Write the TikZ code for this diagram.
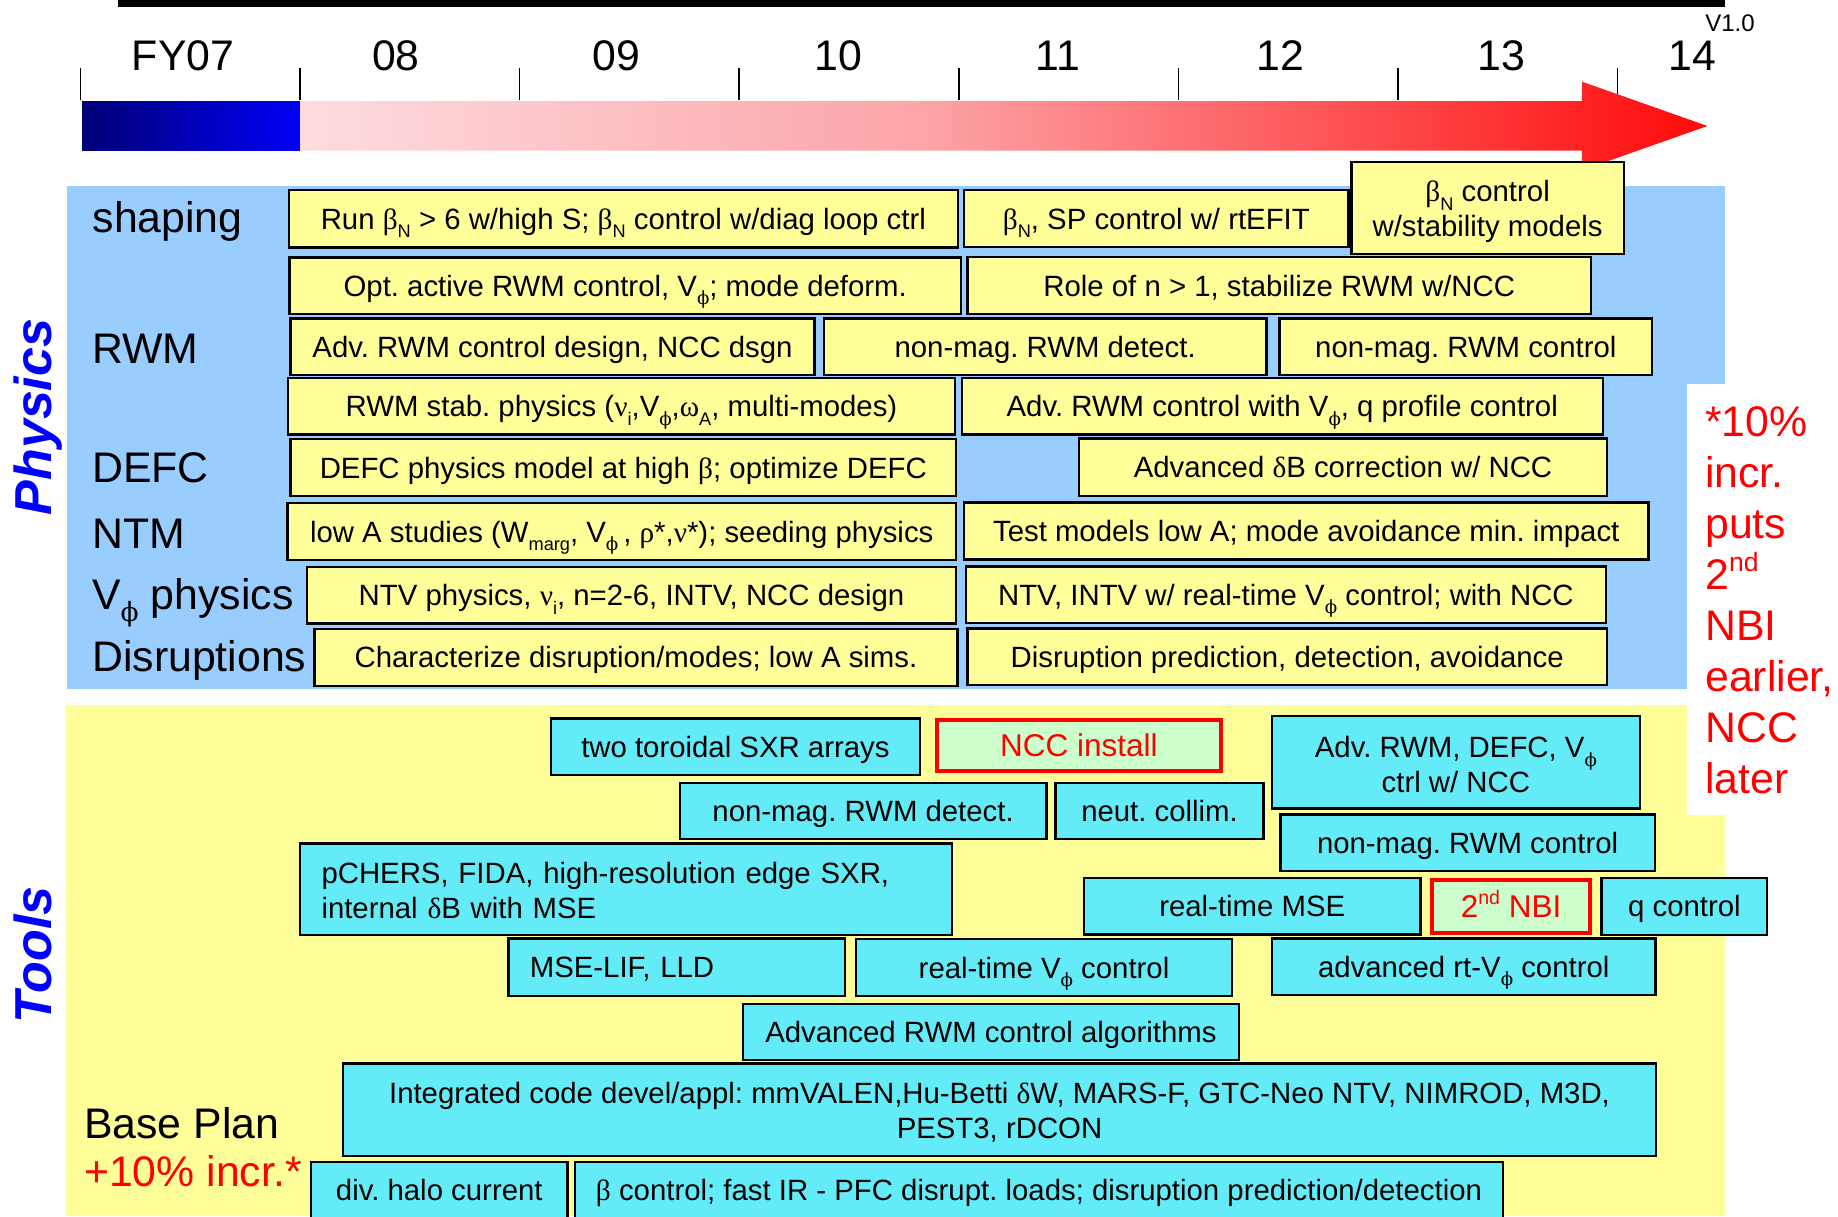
\documentclass[tikz,border=0pt]{standalone}
\usepackage{fontspec}
\setmainfont{Liberation Sans}
\newfontfamily\gkf{Liberation Serif}
\newfontfamily\phf{DejaVu Serif}
\newcommand\g[1]{{\gkf #1}}
\newcommand\fph{{\phf ϕ}}
\newcommand\lo[1]{\raisebox{-0.3em}{\scalebox{0.62}{#1}}}
\newcommand\hi[1]{\raisebox{0.42em}{\scalebox{0.62}{#1}}}
\newcommand\Vp{V\lo{\fph}}
\newcommand\fsb{\fontsize{29.35}{35}\selectfont}
\newcommand\fsr{\fontsize{31.5}{36}\selectfont}
\newcommand\fsl{\fontsize{42.8}{51}\selectfont}
\newcommand\st[1]{\rule{0pt}{#1pt}}
\definecolor{pyel}{RGB}{255,255,153}
\definecolor{pblue}{RGB}{153,204,255}
\definecolor{tcyan}{RGB}{99,236,247}
\definecolor{lgrn}{RGB}{204,255,204}
\definecolor{pk}{RGB}{253,220,224}
\definecolor{pm}{RGB}{252,165,168}
\definecolor{rd}{RGB}{255,10,10}
\definecolor{navy}{RGB}{0,0,120}
\definecolor{bl}{RGB}{0,0,245}
\pgfdeclarehorizontalshading{arrowshade}{100bp}{color(0bp)=(pk); color(25bp)=(pk); color(47bp)=(pm); color(75bp)=(rd); color(100bp)=(rd)}
\newcommand\mybox[7]{\node[#1, minimum width={#4-#2}, minimum height={#5-#3}] (#6) at ({(#2+#4)/2},{(#3+#5)/2}) {#7};}
\tikzset{
  bxs/.style={draw=black, line width=2.4pt, inner sep=0pt, font=\fsb},
  one/.style={text height=21pt, text depth=0pt},
  py/.style={bxs, fill=pyel},
  tc/.style={bxs, fill=tcyan},
  rb/.style={bxs, draw=red, line width=4pt, fill=lgrn, text=red, font=\fsr, text height=22.6pt, text depth=0pt},
  lab/.style={anchor=base west, inner sep=0pt, font=\fsl},
  yr/.style={anchor=base, inner sep=0pt, font=\fsl},
  sect/.style={rotate=90, anchor=base, inner sep=0pt, text=blue, font=\fontsize{52}{52}\selectfont\bfseries\itshape},
}
\begin{document}
\frenchspacing
\begin{tikzpicture}[x=1pt,y=-1pt]
\useasboundingbox (0,0) rectangle (1838,1216);
\clip (0,0) rectangle (1838,1216);
% top bar and timeline
\fill[black] (118,0) rectangle (1725,7);
\foreach \i in {0,...,7} \draw[line width=1.5pt] ({80.4+219.6*\i},67.7) -- ++(0,32.3);
\node[yr] (y07) at (183,70) {FY07};
\node[yr] (y08) at (396,70) {08};
\node[yr] (y09) at (616,70) {09};
\node[yr] (y10) at (838,70) {10};
\node[yr] (y11) at (1058,70) {11};
\node[yr] (y12) at (1280,70) {12};
\node[yr] (y13) at (1501,70) {13};
\node[yr] (y14) at (1692,70) {14};
\node[anchor=base, inner sep=0pt, font=\fontsize{24}{24}\selectfont] (ver) at (1730,31.7) {V1.0};
\shade[left color=navy, right color=bl] (82,101) rectangle (300,150.7);
\shade[shading=arrowshade] (300,101) -- (1582,101) -- (1582,81.7) -- (1707.4,126) -- (1582,170.3) -- (1582,150.7) -- (300,150.7) -- cycle;
% backgrounds
\fill[pblue] (67,186) rectangle (1725,689);
\fill[pyel] (66,705) rectangle (1725,1216);
\fill[white] (1687,384) rectangle (1838,815);
% section labels
\node[sect] (phys) at (51,417) {Physics};
\node[sect] (tools) at (51,955) {Tools};
\node[lab] (lshape) at (92.5,232) {shaping};
\node[lab] (lrwm) at (92,363) {RWM};
\node[lab] (ldefc) at (92,482) {DEFC};
\node[lab] (lntm) at (92,548) {NTM};
\node[lab] (lvphi) at (92,609) {\Vp\ physics};
\node[lab] (ldis) at (92,671.7) {Disruptions};
\node[lab] (lbase) at (84,1138) {Base Plan};
\node[lab, text=red] (lincr) at (84,1186.7) {+10\% incr.*};
\node[anchor=north west, align=left, inner sep=0pt, font=\fsl, text=red] (note) at (1705,406.5) {*10\%\\incr.\\puts\\2\hi{nd}\\NBI\\earlier,\\NCC\\later};
% physics boxes
\mybox{py,one}{288.7}{190}{958}{247.3}{run}{Run \g{β}\lo{N} > 6 w/high S; \g{β}\lo{N} control w/diag loop ctrl}
\mybox{py,one}{964}{190}{1348.6}{247}{bnsp}{\g{β}\lo{N}, SP control w/ rtEFIT}
\mybox{py,align=center}{1351.5}{161.7}{1623.7}{254}{bnstab}{\st{29}\g{β}\lo{N} control\\w/stability models}
\mybox{py,one}{289.4}{257.3}{961}{314}{opt}{Opt. active RWM control, \Vp; mode deform.}
\mybox{py,one}{967.5}{257}{1591}{314}{role}{Role of n > 1, stabilize RWM w/NCC}
\mybox{py,one}{290.6}{318.3}{814.4}{375}{advd}{Adv. RWM control design, NCC dsgn}
\mybox{py,one}{823.8}{318.3}{1266.5}{375}{nmd}{non-mag. RWM detect.}
\mybox{py,one}{1279.6}{318.3}{1652}{375}{nmc}{non-mag. RWM control}
\mybox{py,one}{288}{377.7}{955}{434.3}{stab}{RWM stab. physics (\g{ν}\lo{i},\Vp,\g{ω}\lo{A}, multi-modes)}
\mybox{py,one}{961.8}{377.7}{1602.7}{434.3}{advq}{Adv. RWM control with \Vp, q profile control}
\mybox{py,one}{290.6}{439}{956}{496}{defc}{DEFC physics model at high \g{β}; optimize DEFC}
\mybox{py,one}{1079}{438.5}{1607}{495.7}{dbc}{Advanced \g{δ}B correction w/ NCC}
\mybox{py,one}{287.5}{503}{956}{560}{lowa}{low A studies (W\lo{marg}, \Vp\,, \g{ρ}*,\g{ν}*); seeding physics}
\mybox{py,one}{964}{502.5}{1648.5}{559.5}{test}{Test models low A; mode avoidance min. impact}
\mybox{py,one}{307}{566.7}{956}{623.3}{ntv}{NTV physics, \g{ν}\lo{i}, n=2-6, INTV, NCC design}
\mybox{py,one}{965.8}{566.3}{1606}{622.8}{ntvr}{NTV, INTV w/ real-time \Vp\ control; with NCC}
\mybox{py,one}{314.4}{629}{957.5}{685.7}{char}{Characterize disruption/modes; low A sims.}
\mybox{py,one}{967.5}{628.5}{1607}{685.2}{dpred}{Disruption prediction, detection, avoidance}
% tools boxes
\mybox{tc,one}{551}{718.3}{919.8}{775}{sxr}{two toroidal SXR arrays}
\mybox{rb}{937}{720}{1221}{771}{ncc}{NCC install}
\mybox{tc,align=center}{1272}{716}{1639.8}{808.3}{advdefc}{\st{26.5}Adv. RWM, DEFC, \Vp\\ctrl w/ NCC}
\mybox{tc,one}{679.7}{782.7}{1046.5}{839}{tnmd}{non-mag. RWM detect.}
\mybox{tc,one}{1055.5}{782.7}{1263.6}{839}{neut}{neut. collim.}
\mybox{tc,one}{1280.4}{814.3}{1654.8}{871}{tnmc}{non-mag. RWM control}
\mybox{tc,align=left,text width=609}{300}{843.3}{952}{935}{pch}{\st{24}pCHERS, FIDA, high-resolution edge SXR,\\internal \g{δ}B with MSE}
\mybox{tc,one}{1084.2}{877.7}{1420.3}{934.3}{rtmse}{real-time MSE}
\mybox{rb}{1432}{880}{1590}{932.5}{nbi}{2\hi{nd} NBI}
\mybox{tc,one}{1601.6}{877.7}{1767.2}{935}{qc}{q control}
\mybox{tc,one,align=left,text width=293.7}{508.3}{938.3}{845}{996}{mself}{MSE-LIF, LLD}
\mybox{tc,one}{856}{939}{1232}{996}{rtv}{real-time \Vp\ control}
\mybox{tc,one}{1272}{938.3}{1655.4}{995}{artv}{advanced rt-\Vp\ control}
\mybox{tc,one}{743}{1004}{1238.8}{1060}{algo}{Advanced RWM control algorithms}
\mybox{tc,align=center}{343}{1063.3}{1656}{1155.7}{integ}{\st{26.5}Integrated code devel/appl: mmVALEN,Hu-Betti \g{δ}W, MARS-F, GTC-Neo NTV, NIMROD, M3D,\\PEST3, rDCON}
\mybox{tc,one}{311}{1161.7}{567.6}{1218}{halo}{div. halo current}
\mybox{tc,one}{575}{1161.7}{1503}{1218}{bctl}{\g{β} control; fast IR - PFC disrupt. loads; disruption prediction/detection}
\end{tikzpicture}
\end{document}
